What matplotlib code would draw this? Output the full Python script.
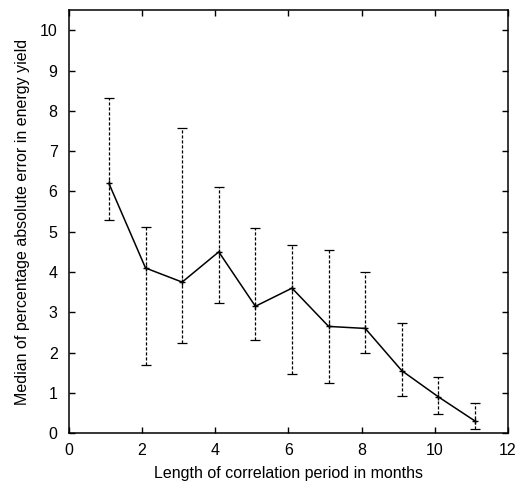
import matplotlib
matplotlib.use("Agg")
import matplotlib.pyplot as plt
import numpy as np

plt.rcParams['font.family'] = ['Liberation Sans', 'DejaVu Sans']

months = [1.1, 2.1, 3.1, 4.1, 5.1, 6.1, 7.1, 8.1, 9.1, 10.1, 11.1]
median = [6.2, 4.1, 3.75, 4.5, 3.15, 3.6, 2.65, 2.6, 1.55, 0.9, 0.3]
upper = [8.32, 5.13, 7.57, 6.1, 5.1, 4.68, 4.55, 4.0, 2.73, 1.4, 0.75]
lower = [5.3, 1.7, 2.25, 3.22, 2.32, 1.48, 1.25, 1.98, 0.93, 0.48, 0.1]

xticks = [0, 2, 4, 6, 8, 10, 12]
yticks = list(range(0, 11))

fig = plt.figure(figsize=(5.32, 4.84), dpi=100)
ax = fig.add_axes([0.129, 0.105, 0.826, 0.874])

med = np.array(median)
yerr = [med - np.array(lower), np.array(upper) - med]
eb = ax.errorbar(months, median, yerr=yerr, fmt='none', ecolor='black',
                 elinewidth=0.9, capsize=3.5, capthick=0.9)
for coll in eb[2]:
    coll.set_linestyle((0, (2.5, 1.5)))
ax.plot(months, median, color='black', lw=1.1, marker='+', ms=5, mew=1)

ax.set_xlim(0, 12)
ax.set_ylim(0, 10.5)
ax.set_xticks(xticks)
ax.set_yticks(yticks)
ax.tick_params(direction='in', top=True, right=True, length=4, labelsize=11.5, width=1)
ax.tick_params(axis='y', pad=8)
ax.tick_params(axis='x', pad=7)
for s in ax.spines.values():
    s.set_linewidth(1.1)
ax.set_xlabel('Length of correlation period in months', fontsize=11.5, labelpad=6)
ax.set_ylabel('Median of percentage absolute error in energy yield', fontsize=11.5, labelpad=7)

fig.savefig('out.png', dpi=100)
